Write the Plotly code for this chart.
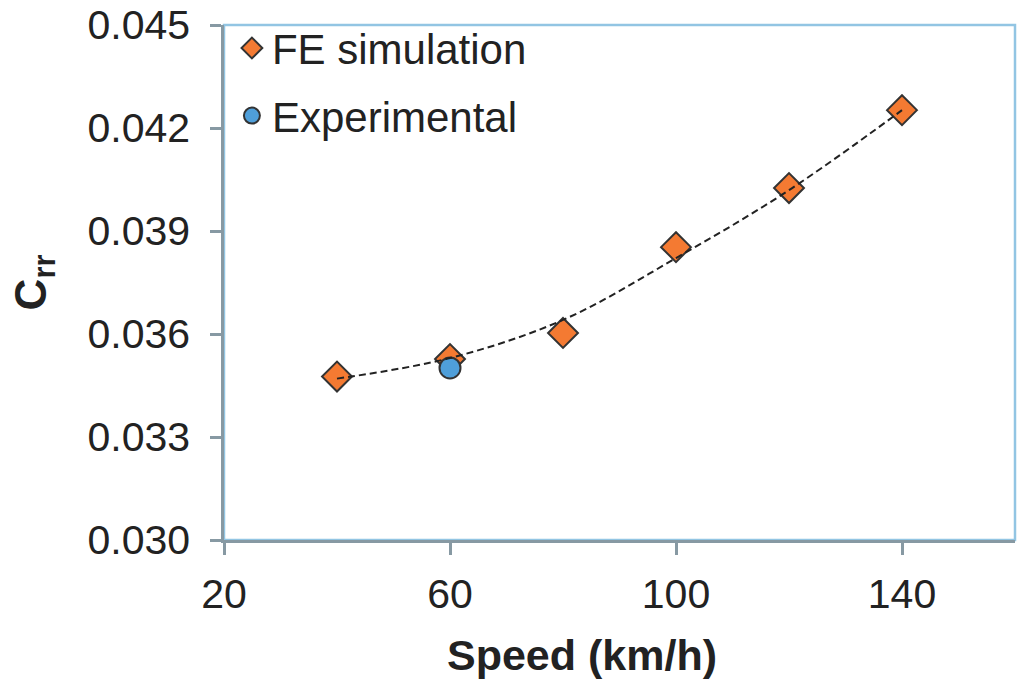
import plotly.graph_objects as go

speed = [40, 60, 80, 100, 120, 140]
crr_fe = [0.03476, 0.03527, 0.03603, 0.03853, 0.04025, 0.04252]
exp_speed = [60]
crr_exp = [0.03501]
trend_speed = [40, 60, 80, 100, 120, 140]
trend_crr = [0.03470, 0.03530, 0.03641, 0.03821, 0.04019, 0.04252]

FONT = "Liberation Sans, Arial, sans-serif"
AXIS_COL = "#8799a3"
FRAME_COL = "#92c5e3"

fig = go.Figure()
fig.add_trace(go.Scatter(
    x=speed, y=crr_fe, mode="markers", name="FE simulation",
    legendgroup="a",
    marker=dict(symbol="diamond", size=23, color="#f47a32",
                line=dict(color="#333333", width=2)),
))
fig.add_trace(go.Scatter(
    x=exp_speed, y=crr_exp, mode="markers", name="Experimental",
    legendgroup="b",
    marker=dict(symbol="circle", size=21, color="#4f9fda",
                line=dict(color="#333333", width=2)),
))
fig.add_trace(go.Scatter(
    x=trend_speed, y=trend_crr, mode="lines", showlegend=False,
    line=dict(color="#222222", width=2, dash="7px,4px", shape="spline"),
    hoverinfo="skip",
))

fig.update_layout(
    width=1024, height=684,
    margin=dict(l=224, r=9, t=25, b=144, autoexpand=False),
    paper_bgcolor="white", plot_bgcolor="white",
    font=dict(family=FONT, size=41, color="#222222"),
    showlegend=True,
    legend=dict(x=0.01, y=1.021, xanchor="left", yanchor="top",
                bgcolor="rgba(0,0,0,0)", font=dict(size=42),
                tracegroupgap=10, traceorder="grouped",
                itemwidth=30),
    shapes=[dict(type="rect", xref="paper", yref="paper", x0=0, x1=1, y0=0, y1=1,
                 line=dict(color=FRAME_COL, width=2.5), layer="below")],
    annotations=[dict(text="<b>Speed (km/h)</b>", xref="paper", yref="paper",
                      x=0.4526, y=-0.2233, xanchor="center", yanchor="middle",
                      showarrow=False, font=dict(size=43, color="#222222"))],
)
fig.update_xaxes(
    range=[20, 160], tick0=20, dtick=40, showgrid=False, zeroline=False,
    showline=True, linecolor=AXIS_COL, linewidth=2.5,
    ticks="outside", ticklen=12, tickwidth=2.5, tickcolor=AXIS_COL,
    tickfont=dict(size=41), ticklabelstandoff=4,
)
fig.update_yaxes(
    range=[0.030, 0.045], tick0=0.030, dtick=0.003, tickformat=".3f",
    showgrid=False, zeroline=False,
    showline=True, linecolor=AXIS_COL, linewidth=2.5,
    ticks="outside", ticklen=11, tickwidth=2.5, tickcolor=AXIS_COL,
    tickfont=dict(size=41), ticklabelstandoff=12, ticklabeloverflow="allow",
    title=dict(text="<b>C<sub>rr</sub></b>", font=dict(size=44), standoff=28),
)

fig.write_html("out.html", config={"displayModeBar": False},
               post_script="document.body.style.margin='0px';document.body.style.overflow='hidden';")
